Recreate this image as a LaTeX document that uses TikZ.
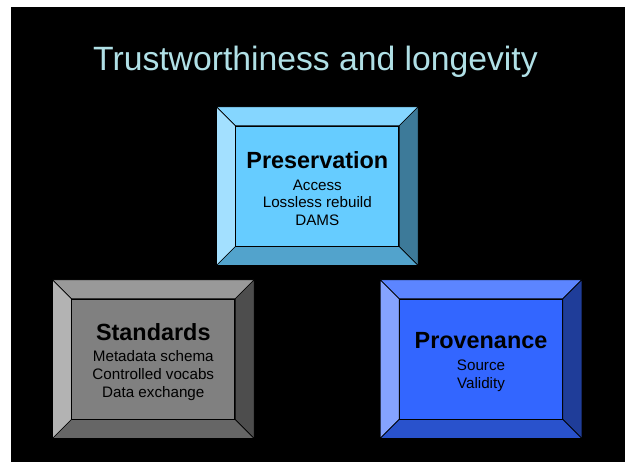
\documentclass[tikz,border=0pt]{standalone}
\usepackage{fontspec}
\setmainfont{Liberation Sans}
\usepackage{xcolor}
\usetikzlibrary{positioning}
\definecolor{titlecol}{HTML}{B0E0E6}
\definecolor{presblue}{HTML}{66CCFF}
\definecolor{provblue}{HTML}{3366FF}
\definecolor{stdgray}{HTML}{808080}
\tikzset{
	face/.style={
			draw=black, line width=0.7pt, inner sep=0pt,
			minimum width=163pt, minimum height=120pt,
			align=center, text=black,
			font=\fontsize{15.2}{17.8}\selectfont
		}
}
% bevel round a face node: #1 node, #2 colour
\newcommand{\bevelbox}[2]{%
  \path ([shift={(-19,-19)}]#1.north west) coordinate (#1-onw)
        ([shift={(19,-19)}]#1.north east) coordinate (#1-one)
        ([shift={(19,19)}]#1.south east) coordinate (#1-ose)
        ([shift={(-19,19)}]#1.south west) coordinate (#1-osw);
  \filldraw[fill=#2!80!white, line width=0.7pt] (#1.north west) -- (#1-onw) -- (#1-one) -- (#1.north east) -- cycle;
  \filldraw[fill=#2!60!white, line width=0.7pt] (#1.north west) -- (#1-onw) -- (#1-osw) -- (#1.south west) -- cycle;
  \filldraw[fill=#2!60!black, line width=0.7pt] (#1.north east) -- (#1-one) -- (#1-ose) -- (#1.south east) -- cycle;
  \filldraw[fill=#2!80!black, line width=0.7pt] (#1.south west) -- (#1-osw) -- (#1-ose) -- (#1.south east) -- cycle;
}
\newcommand{\boxhead}[1]{{\fontsize{23.4}{23.4}\selectfont\bfseries\rule{0pt}{22pt}#1}\\[3.8pt]}

\begin{document}
\begin{tikzpicture}[x=1pt,y=-1pt]

  \fill[white] (0,0) rectangle (625,462);
  \fill[black] (11,7) rectangle (625,462);

  \node[anchor=base, text=titlecol, font=\fontsize{33.7}{40}\selectfont] (title) at (315.5,70.7) {Trustworthiness and longevity};

    \node (pres) at (317.3,186.2) [face, fill=presblue] {\boxhead{Preservation}Access\\Lossless rebuild\\DAMS};
    \node (std) at (153.3,359.2) [face, fill=stdgray] {\boxhead{Standards}Metadata schema\\Controlled vocabs\\Data exchange};
    \node (prov) at (481,359.2) [face, fill=provblue] {\boxhead{Provenance}Source\\Validity};

  \bevelbox{pres}{presblue}
  \bevelbox{std}{stdgray}
  \bevelbox{prov}{provblue}
    \end{tikzpicture}
\end{document}
